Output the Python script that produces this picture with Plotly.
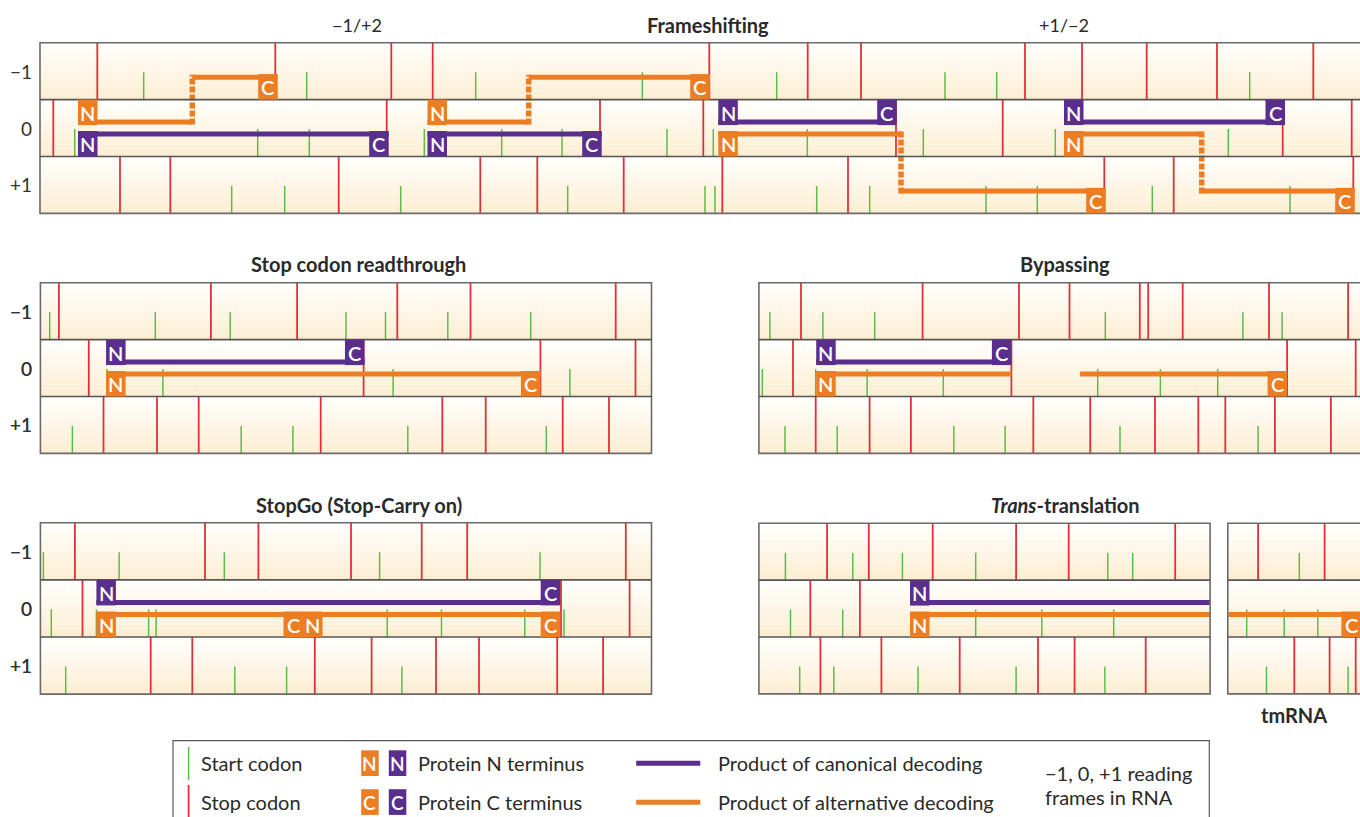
import plotly.graph_objects as go

# ------------------------------------------------------------------
# DATA: codon positions along each panel's RNA (px from panel's 5' edge)
# ------------------------------------------------------------------
FRAMES = ["\u22121", "0", "+1"]

# Frameshifting
FS_STOP_M1 = [57.3, 235.3, 351.3, 392.7, 669.3, 767.7, 821, 985, 1042, 1106.7, 1177, 1273.3]
FS_STOP_0 = [13.3, 346.7, 560, 663.3, 856, 962.7, 1242.7, 1311.7]
FS_STOP_P1 = [80, 130.3, 298.7, 440.3, 497.3, 583.7, 682.3, 808, 1064.3, 1133.7, 1313.3]
FS_START_M1 = [103.7, 266.7, 435.7, 602.3, 736.7, 905, 956.7, 1209.7]
FS_START_0 = [34.7, 217.7, 269.3, 384.3, 461.7, 522, 627, 673.3, 767.3, 883.3, 1015.3, 1188.3]
FS_START_P1 = [191.7, 244.7, 360.7, 527.7, 665, 675, 776.7, 829.7, 946, 997.3, 1112.3, 1250]

# Stop codon readthrough
SR_STOP_M1 = [18.5, 170.5, 256.7, 356.9, 430.1, 575.3]
SR_STOP_0 = [48.4, 323.2, 500, 595.1]
SR_STOP_P1 = [63.1, 116.6, 158.3, 280.3, 401.9, 445.3, 522.3, 568.6]
SR_START_M1 = [9.3, 114.9, 189.8, 305.6, 345.1, 407.4, 490.3]
SR_START_0 = [66.6, 122.5, 352.7, 529.5]
SR_START_P1 = [32, 200.8, 252.5, 367.4, 505.9]

# Bypassing
BP_STOP_M1 = [42.1, 163.7, 260.1, 310.6, 380.9, 389.3, 423.8, 510.1, 589.2]
BP_STOP_0 = [34.1, 252.5, 528.2, 596.8]
BP_STOP_P1 = [56.8, 110.7, 152, 274.4, 331.3, 396.1, 439.4, 466.4, 516, 572]
BP_START_M1 = [11, 64, 115.8, 346.4, 484, 523.2]
BP_START_0 = [3.4, 56.8, 108.2, 184.4, 338.8, 401.5, 458.8]
BP_START_P1 = [26.1, 78.3, 194.9, 246.2, 361.1, 499.2]

# StopGo
SG_STOP_M1 = [34.5, 164.6, 218, 310.6, 381.3, 426.8, 585.4]
SG_STOP_0 = [42.1, 520.6, 589.2]
SG_STOP_P1 = [110.3, 151.9, 274.4, 331.2, 395.6, 438.6, 516.8, 562.7]
SG_START_M1 = [3, 78.7, 183.9, 339.2, 499.6]
SG_START_0 = [10.9, 56, 108.2, 115.7, 346.8, 401.1, 484.4, 523.6]
SG_START_P1 = [25.3, 194.4, 246.2, 361.5]

# Trans-translation (mRNA)
TT_STOP_M1 = [68.2, 109.9, 173.8, 257.2, 309.8, 416.3]
TT_STOP_0 = [51.4, 101]
TT_STOP_P1 = [61.5, 122.5, 200.8, 279.1, 315.7, 386.8]
TT_START_M1 = [26.5, 93.9, 143.5, 216.8, 348.9, 373.8]
TT_START_0 = [31.6, 83.8, 216.8, 282.9, 354.8]
TT_START_P1 = [40.8, 74.9, 159.1, 257.2, 346]

# tmRNA
TM_STOP_M1 = [30.3, 96.8]
TM_STOP_0 = []
TM_STOP_P1 = [66.5, 101.8, 127.9]
TM_START_M1 = [71.5]
TM_START_0 = [18.9, 56.4, 90]
TM_START_P1 = [38.7, 120.3]

# Protein products: (panel, kind, segments[(frame, slot, start, end)], has N, has C)
PRODUCTS = [
    ("fs", "canonical", [("0", "low", 38, 348.7)], True, True),
    ("fs", "alternative", [("0", "up", 38, 152.3), ("\u22121", "low", 152.3, 237.7)], True, True),
    ("fs", "canonical", [("0", "low", 387.5, 561.7)], True, True),
    ("fs", "alternative", [("0", "up", 387.5, 488.7), ("\u22121", "low", 488.7, 669.7)], True, True),
    ("fs", "canonical", [("0", "up", 678.3, 856.7)], True, True),
    ("fs", "alternative", [("0", "low", 678.3, 861), ("+1", "low", 861, 1065.7)], True, True),
    ("fs", "canonical", [("0", "up", 1024, 1245)], True, True),
    ("fs", "alternative", [("0", "low", 1024, 1161.7), ("+1", "low", 1161.7, 1314.7)], True, True),
    ("sr", "canonical", [("0", "up", 65.7, 324.1)], True, True),
    ("sr", "alternative", [("0", "low", 65.7, 500)], True, True),
    ("bp", "canonical", [("0", "up", 57.3, 252.5)], True, True),
    ("bp", "alternative", [("0", "low", 57.3, 252.5)], True, False),
    ("bp", "alternative", [("0", "low", 321.2, 528.2)], False, True),
    ("sg", "canonical", [("0", "up", 56, 519.8)], True, True),
    ("sg", "alternative", [("0", "low", 56, 262.6)], True, True),
    ("sg", "alternative", [("0", "low", 262.6, 519.8)], True, True),
    ("tt", "canonical", [("0", "up", 151.1, 451.2)], True, False),
    ("tt", "alternative", [("0", "low", 151.1, 451.2)], True, False),
    ("tm", "alternative", [("0", "low", 0.8, 133.1)], False, True),
]

LEGEND_LEFT = ["Start codon", "Stop codon"]
LEGEND_MID = ["Protein N terminus", "Protein C terminus"]
LEGEND_RIGHT = ["Product of canonical decoding", "Product of alternative decoding"]
LEGEND_NOTE = ["\u22121, 0, +1 reading", "frames in RNA"]

# ------------------------------------------------------------------
# Layout / styling
# ------------------------------------------------------------------
W, H = 1360, 817
FONT = "Lato"
TXT = "#2a2a2a"
RED = "#e2303a"
GREEN = "#5cbc47"
PURPLE = "#5a2e8d"
ORANGE = "#ec7d22"
BORDER = "#6a6a6a"
COLORS = {"canonical": PURPLE, "alternative": ORANGE}

PANELS = {
    "fs": dict(left=40, top=42.7, width=1330, rowh=56.9, labels=True,
               stops=[FS_STOP_M1, FS_STOP_0, FS_STOP_P1], starts=[FS_START_M1, FS_START_0, FS_START_P1]),
    "sr": dict(left=40.4, top=282.7, width=611.1, rowh=56.9, labels=True,
               stops=[SR_STOP_M1, SR_STOP_0, SR_STOP_P1], starts=[SR_START_M1, SR_START_0, SR_START_P1]),
    "bp": dict(left=758.9, top=282.7, width=610, rowh=56.9, labels=True,
               stops=[BP_STOP_M1, BP_STOP_0, BP_STOP_P1], starts=[BP_START_M1, BP_START_0, BP_START_P1]),
    "sg": dict(left=40.4, top=522.8, width=611.1, rowh=57.1, labels=True,
               stops=[SG_STOP_M1, SG_STOP_0, SG_STOP_P1], starts=[SG_START_M1, SG_START_0, SG_START_P1]),
    "tt": dict(left=758.9, top=523.2, width=451.2, rowh=56.9, labels=True,
               stops=[TT_STOP_M1, TT_STOP_0, TT_STOP_P1], starts=[TT_START_M1, TT_START_0, TT_START_P1]),
    "tm": dict(left=1227.8, top=523.2, width=150, rowh=56.9, labels=False,
               stops=[TM_STOP_M1, TM_STOP_0, TM_STOP_P1], starts=[TM_START_M1, TM_START_0, TM_START_P1]),
}

BOX_W, BOX_H = 19.5, 25.5
SLOT_Y = {"up": 22.5, "low": 34.5}
START_TOP = 29.5

fig = go.Figure()
shapes = []
annotations = []

TOP_RGB = (255, 254, 251)
BOT_RGB = (253, 238, 211)
NSTRIPE = 14

for key, p in PANELS.items():
    L, T, Wd, R = p["left"], p["top"], p["width"], p["rowh"]
    for i in range(3):
        y0 = T + i * R
        for s in range(NSTRIPE):
            f = s / (NSTRIPE - 1)
            c = tuple(round(a + (b - a) * f) for a, b in zip(TOP_RGB, BOT_RGB))
            shapes.append(dict(type="rect", xref="x", yref="y", layer="below",
                               x0=L, x1=L + Wd, y0=y0 + s * R / NSTRIPE, y1=y0 + (s + 1) * R / NSTRIPE,
                               fillcolor="rgb(%d,%d,%d)" % c, line=dict(width=0)))
    shapes.append(dict(type="rect", xref="x", yref="y", layer="above", x0=L, x1=L + Wd, y0=T, y1=T + 3 * R,
                       line=dict(color=BORDER, width=1.6), fillcolor="rgba(0,0,0,0)"))
    for i in (1, 2):
        shapes.append(dict(type="line", xref="x", yref="y", layer="above", x0=L, x1=L + Wd,
                           y0=T + i * R, y1=T + i * R, line=dict(color="#555555", width=1.6)))
    if p["labels"]:
        for i, lab in enumerate(FRAMES):
            annotations.append(dict(x=33.5, y=T + (i + 0.5) * R, xref="x", yref="y", text=lab,
                                    showarrow=False, xanchor="right", yanchor="middle",
                                    font=dict(family=FONT, size=19, color="#333333", weight=400)))

# codon lines
sx, sy, gx, gy = [], [], [], []
for key, p in PANELS.items():
    L, T, R = p["left"], p["top"], p["rowh"]
    for i in range(3):
        for pos in p["stops"][i]:
            sx += [L + pos, L + pos, None]
            sy += [T + i * R, T + (i + 1) * R, None]
        for pos in p["starts"][i]:
            gx += [L + pos, L + pos, None]
            gy += [T + i * R + START_TOP, T + (i + 1) * R, None]

fig.add_trace(go.Scatter(x=gx, y=gy, mode="lines", line=dict(color=GREEN, width=1.5), hoverinfo="skip"))
fig.add_trace(go.Scatter(x=sx, y=sy, mode="lines", line=dict(color=RED, width=1.8), hoverinfo="skip"))


def add_box(x0, y0, color, letter, w=BOX_W, h=BOX_H, size=20):
    shapes.append(dict(type="rect", xref="x", yref="y", layer="above", x0=x0, x1=x0 + w, y0=y0, y1=y0 + h,
                       fillcolor=color, line=dict(width=0)))
    annotations.append(dict(x=x0 + w / 2, y=y0 + h / 2 + 0.5, xref="x", yref="y", text=letter,
                            showarrow=False, xanchor="center", yanchor="middle",
                            font=dict(family=FONT, size=size, color="white", weight=600)))


# products
for key, kind, segs, hasN, hasC in PRODUCTS:
    p = PANELS[key]
    L, T, R = p["left"], p["top"], p["rowh"]
    col = COLORS[kind]
    prev = None
    for frame, slot, a, b in segs:
        i = FRAMES.index(frame)
        y = T + i * R + SLOT_Y[slot]
        fig.add_trace(go.Scatter(x=[L + a, L + b], y=[y, y], mode="lines",
                                 line=dict(color=col, width=5), hoverinfo="skip"))
        if prev is not None:
            px, py = prev
            ya, yb = (py - 2.5, y + 2.5) if y > py else (py + 2.5, y - 2.5)
            fig.add_trace(go.Scatter(x=[L + a, L + a], y=[ya, yb], mode="lines",
                                     line=dict(color=col, width=5.5, dash="6px,2px"), hoverinfo="skip"))
        prev = (b, y)
    f0, s0, a0, _ = segs[0]
    f1, s1, _, b1 = segs[-1]
    if hasN:
        i = FRAMES.index(f0)
        y0 = T + i * R if s0 == "up" else T + (i + 1) * R - BOX_H
        add_box(L + a0, y0, col, "N")
    if hasC:
        i = FRAMES.index(f1)
        y0 = T + i * R if s1 == "up" else T + (i + 1) * R - BOX_H
        add_box(L + b1 - BOX_W, y0, col, "C")


def title(x, y, text, bold=True, size=20):
    annotations.append(dict(x=x, y=y, xref="x", yref="y", text=text, showarrow=False,
                            xanchor="center", yanchor="middle",
                            font=dict(family=FONT, size=size, color=TXT, weight=700 if bold else 400)))

title(357, 25, "\u22121/+2", bold=False, size=18)
title(707.5, 25, "Frameshifting")
title(1064, 25, "+1/\u22122", bold=False, size=18)
title(358, 263.5, "Stop codon readthrough")
title(1065, 263.5, "Bypassing")
title(358.5, 504.5, "StopGo (Stop-Carry on)")
title(1065, 504.5, "<i>Trans</i>-translation")
title(1294, 714.5, "tmRNA")

# legend box
shapes.append(dict(type="rect", xref="x", yref="y", layer="above", x0=173, x1=1209.3, y0=740.7, y1=830,
                   line=dict(color="#5a5a5a", width=1.2), fillcolor="white"))
shapes.append(dict(type="line", xref="x", yref="y", layer="above", x0=188.6, x1=188.6, y0=747, y1=780,
                   line=dict(color=GREEN, width=1.5)))
shapes.append(dict(type="line", xref="x", yref="y", layer="above", x0=188.6, x1=188.6, y0=785, y1=830,
                   line=dict(color=RED, width=1.8)))
ROW_Y = [763.3, 802.2]
LEG_FONT = dict(family=FONT, size=20, color=TXT)
for k in range(2):
    annotations.append(dict(x=198.5, y=ROW_Y[k], xref="x", yref="y", text=LEGEND_LEFT[k], showarrow=False,
                            xanchor="left", yanchor="middle", font=LEG_FONT))
    annotations.append(dict(x=416, y=ROW_Y[k], xref="x", yref="y", text=LEGEND_MID[k], showarrow=False,
                            xanchor="left", yanchor="middle", font=LEG_FONT))
    annotations.append(dict(x=715.5, y=ROW_Y[k], xref="x", yref="y", text=LEGEND_RIGHT[k], showarrow=False,
                            xanchor="left", yanchor="middle", font=LEG_FONT))
    letter = "N" if k == 0 else "C"
    add_box(361.2, ROW_Y[k] - 13, ORANGE, letter, w=17.5, h=25.7, size=19)
    add_box(388.8, ROW_Y[k] - 13, PURPLE, letter, w=17.5, h=25.7, size=19)
    line_col = PURPLE if k == 0 else ORANGE
    shapes.append(dict(type="line", xref="x", yref="y", layer="above", x0=636.2, x1=700.3,
                       y0=ROW_Y[k], y1=ROW_Y[k], line=dict(color=line_col, width=5)))
annotations.append(dict(x=1042.5, y=773.3, xref="x", yref="y", text=LEGEND_NOTE[0], showarrow=False,
                        xanchor="left", yanchor="middle", font=LEG_FONT))
annotations.append(dict(x=1042.5, y=796.7, xref="x", yref="y", text=LEGEND_NOTE[1], showarrow=False,
                        xanchor="left", yanchor="middle", font=LEG_FONT))

fig.update_layout(
    width=W, height=H, margin=dict(l=0, r=0, t=0, b=0),
    paper_bgcolor="white", plot_bgcolor="white", showlegend=False,
    xaxis=dict(range=[0, W], visible=False, fixedrange=True),
    yaxis=dict(range=[H, 0], visible=False, fixedrange=True),
    shapes=shapes, annotations=annotations,
)

fig.write_html("out.html", config={"displayModeBar": False},
               post_script="document.body.style.margin='0';")
